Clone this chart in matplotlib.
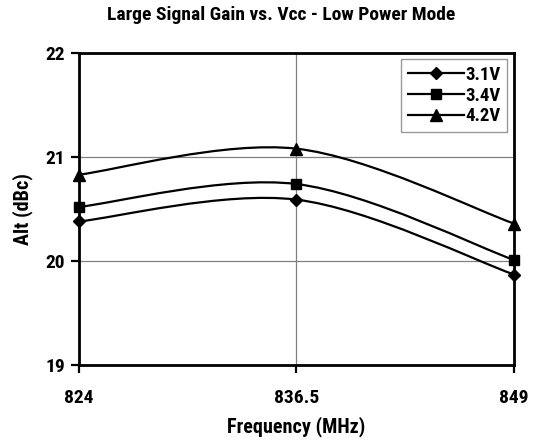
import numpy as np
import matplotlib
matplotlib.use("Agg")
import matplotlib.pyplot as plt
from matplotlib.path import Path
from matplotlib.patches import PathPatch

plt.rcParams['font.family'] = ['Liberation Sans Narrow', 'Roboto Condensed', 'Liberation Sans', 'DejaVu Sans']
plt.rcParams['font.weight'] = 'bold'

# data
frequency = [824, 836.5, 849]
gain_31 = [20.38, 20.59, 19.87]
gain_34 = [20.52, 20.74, 20.01]
gain_42 = [20.83, 21.08, 20.36]
series_labels = ['3.1V', '3.4V', '4.2V']
series_markers = ['D', 's', '^']
x_ticks = [824, 836.5, 849]
y_ticks = [19, 20, 21, 22]


def smooth_path(xs, ys):
    # Excel-style smoothed line: cubic Bezier segments through the points
    pts = np.column_stack([xs, ys]).astype(float)
    n = len(pts)
    verts = [pts[0]]
    codes = [Path.MOVETO]
    for i in range(n - 1):
        p_prev = pts[max(i - 1, 0)]
        p0 = pts[i]
        p1 = pts[i + 1]
        p_next = pts[min(i + 2, n - 1)]
        c1 = p0 + (p1 - p_prev) / 6.0
        c2 = p1 - (p_next - p0) / 6.0
        verts += [c1, c2, p1]
        codes += [Path.CURVE4] * 3
    return Path(verts, codes)


fig = plt.figure(figsize=(5.38, 4.48), dpi=100)
ax = fig.add_axes([0.1468, 0.1853, 0.8086, 0.6964])

for ys, lab, mk in zip([gain_31, gain_34, gain_42], series_labels, series_markers):
    ax.add_patch(PathPatch(smooth_path(frequency, ys), facecolor='none',
                           edgecolor='black', lw=1.6, zorder=3, clip_on=False))
    ms = 6.5 if mk == 'D' else (7 if mk == 's' else 8)
    ax.plot(frequency, ys, linestyle='none', marker=mk, color='black', ms=ms,
            zorder=4, clip_on=False)
    ax.plot([], [], '-', marker=mk, color='black', lw=1.6, ms=ms, label=lab)

ax.set_xlim(824, 849)
ax.set_ylim(19, 22)
ax.set_xticks(x_ticks)
ax.set_xticklabels(['824', '836.5', '849'])
ax.set_yticks(y_ticks)
ax.grid(True, color='#808080', lw=0.9)
ax.set_axisbelow(True)

for sp in ax.spines.values():
    sp.set_linewidth(2)
    sp.set_color('black')

ax.tick_params(axis='both', direction='out', length=6, width=1.6,
               labelsize=14, pad=4)
ax.tick_params(axis='x', pad=11)

ax.set_xlabel('Frequency (MHz)', fontsize=14.5, fontweight='bold', labelpad=7)
ax.set_ylabel('Alt (dBc)', fontsize=14.5, fontweight='bold', labelpad=9)
fig.text(0.522, 0.966, 'Large Signal Gain vs. Vcc - Low Power Mode',
         ha='center', va='center', fontsize=14, fontweight='bold')

leg = ax.legend(loc='upper right', bbox_to_anchor=(0.985, 0.98), fontsize=13.5,
                frameon=True, fancybox=False, handlelength=3.0, handletextpad=0.1,
                labelspacing=0.15, borderpad=0.35, borderaxespad=0.0)
leg.get_frame().set_edgecolor('#808080')
leg.get_frame().set_linewidth(1.0)

fig.savefig('out.png', dpi=100)
